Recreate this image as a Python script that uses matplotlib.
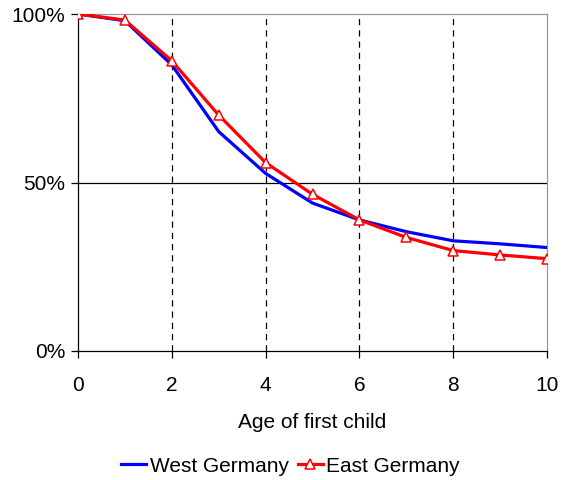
import matplotlib
matplotlib.use("Agg")
import matplotlib.pyplot as plt
from matplotlib.ticker import PercentFormatter

plt.rcParams['font.family'] = ['Liberation Sans', 'DejaVu Sans']

# data
ages = [0, 1, 2, 3, 4, 5, 6, 7, 8, 9, 10]
west = [100, 98.0, 84.9, 65.1, 52.7, 43.9, 38.9, 35.4, 32.7, 31.8, 30.7]
east = [100, 98.2, 86.1, 70.0, 55.9, 46.5, 38.9, 33.7, 29.8, 28.5, 27.4]
x_ticks = [0, 2, 4, 6, 8, 10]
y_ticks = [0, 50, 100]

fig = plt.figure(figsize=(5.63, 4.80), dpi=100)
ax = fig.add_axes([78 / 563, 1 - 351 / 480, (547 - 78) / 563, (351 - 14) / 480])

# vertical dashed grid and horizontal 50% line
for xv in x_ticks[1:-1]:
    ax.axvline(xv, color='black', linestyle=(0, (5, 4)), linewidth=0.9, zorder=1)
ax.axhline(50, color='black', linewidth=0.9, zorder=1)

ax.plot(ages, west, color='#0000ff', linewidth=2.3, label='West Germany', zorder=3)
ax.plot(ages, east, color='#ff0000', linewidth=2.3, marker='^', markersize=7.5,
        markerfacecolor='white', markeredgecolor='#ff0000', markeredgewidth=1.1,
        label='East Germany', zorder=4)

ax.set_xlim(0, 10)
ax.set_ylim(0, 100)
ax.set_xticks(x_ticks)
ax.set_yticks(y_ticks)
ax.yaxis.set_major_formatter(PercentFormatter(decimals=0))
ax.tick_params(axis='both', labelsize=15, length=5, width=0.9, direction='out', color='black')
ax.tick_params(axis='x', pad=13)
ax.tick_params(axis='y', pad=4)

for side in ['top', 'right']:
    ax.spines[side].set_color('#999999')
    ax.spines[side].set_linewidth(0.9)
for side in ['left', 'bottom']:
    ax.spines[side].set_color('black')
    ax.spines[side].set_linewidth(0.9)

ax.set_xlabel('Age of first child', fontsize=15, labelpad=13)

fig.legend(loc='center', bbox_to_anchor=(290.5 / 563, 1 - 466 / 480), ncol=2, frameon=False,
           fontsize=15, handlelength=1.2, handletextpad=0.15, columnspacing=0.45,
           borderaxespad=0)

fig.savefig('out.png', dpi=100, facecolor='white')
